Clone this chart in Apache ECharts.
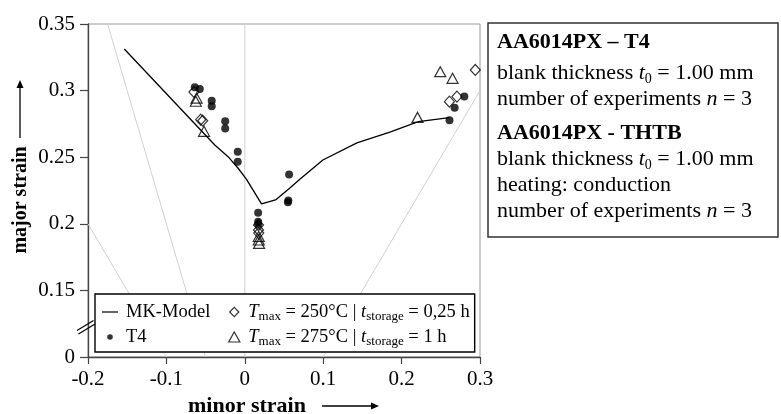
<!DOCTYPE html>
<html><head><meta charset="utf-8">
<script src="https://cdn.jsdelivr.net/npm/echarts@6/dist/echarts.min.js"></script>
<style>html,body{margin:0;padding:0;background:#fff}#c{width:781px;height:414px}</style>
</head><body><div id="c"></div>
<script>
// ---- tick labels ----
const xTickLabels = ['-0.2', '-0.1', '0', '0.1', '0.2', '0.3'];
const yTickLabels = ['0', '0.15', '0.2', '0.25', '0.3', '0.35']; // bottom tick is the axis break (shown as 0)

// ---- series data [minor strain, major strain] ----
const mkModel = [
  [-0.1537, 0.3312], [-0.0954, 0.2948], [-0.0383, 0.2592], [-0.0213, 0.2504],
  [-0.0085, 0.2417], [0.0022, 0.2334], [0.0213, 0.2149], [0.0392, 0.2179],
  [0.0575, 0.2269], [0.0702, 0.2334], [0.0996, 0.2479], [0.1430, 0.2607],
  [0.1851, 0.2689], [0.2213, 0.2767], [0.2609, 0.2797]
];
const t4 = [
  [-0.0638, 0.3025], [-0.0574, 0.3012],
  [-0.0422, 0.2924], [-0.0422, 0.2882],
  [-0.0250, 0.2770], [-0.0250, 0.2715],
  [-0.0090, 0.2540], [-0.0090, 0.2465],
  [0.0170, 0.2083], [0.0170, 0.2016], [0.0172, 0.1998],
  [0.0565, 0.2370], [0.0555, 0.2175], [0.0550, 0.2162],
  [0.2800, 0.2955], [0.2676, 0.2872], [0.2611, 0.2777]
];
const tmax250 = [
  [-0.0649, 0.2990], [-0.0563, 0.2782], [-0.0537, 0.2774],
  [0.0175, 0.1991], [0.0175, 0.1953], [0.0178, 0.1930],
  [0.2706, 0.2955], [0.2610, 0.2917], [0.2940, 0.3155]
];
const tmax275 = [
  [-0.0625, 0.2920], [-0.0615, 0.2944], [-0.0520, 0.2694],
  [0.0178, 0.1905], [0.0178, 0.1878], [0.0182, 0.1853],
  [0.2493, 0.3142], [0.2650, 0.3092], [0.2203, 0.2799]
];

// ---- forming-limit reference lines (display coordinates) ----
const lineUniaxial = [[-0.175, 0.35], [-0.05, 0.10]];
const lineShear = [[-0.2, 0.2], [-0.1, 0.1]];
const lineEquibiaxial = [[0.1, 0.1], [0.3, 0.3]];
const linePlane = [[0, 0.1], [0, 0.35]];

// ---- texts ----
const legendTexts = {
  'MK-Model': '{p|MK-Model}',
  'T4': 'T4',
  'T250': '{i|T}{s|max} = 250°C | {i|t}{s|storage} = 0,25 h',
  'T275': '{i|T}{s|max} = 275°C | {i|t}{s|storage} = 1 h'
};
const infoLines = [
  'AA6014PX – T4',
  'blank thickness {i|t}{s|0} = 1.00 mm',
  'number of experiments {i|n} = 3',
  'AA6014PX - THTB',
  'blank thickness {i|t}{s|0} = 1.00 mm',
  'heating: conduction',
  'number of experiments {i|n} = 3'
];
const infoBold = [true, false, false, true, false, false, false];
const infoTops = [29, 60, 86, 120, 146, 172, 198];

const FF = '"Liberation Serif", "Times New Roman", serif';
const chart = echarts.init(document.getElementById('c'));

function guide(data) {
  return { type: 'line', data: data, symbol: 'none', silent: true, z: 1,
    lineStyle: { color: '#d0d0d0', width: 1 } };
}

const hollow = { color: 'rgba(0,0,0,0)', borderColor: '#000', borderWidth: 1.2 };

const option = {
  animation: false,
  backgroundColor: '#fff',
  grid: { left: 88, right: 301, top: 24, bottom: 57, show: true, borderColor: '#999', borderWidth: 1 },
  xAxis: {
    type: 'value', min: -0.2, max: 0.3, interval: 0.1,
    axisLine: { onZero: false, lineStyle: { color: '#444', width: 1.3 } },
    axisTick: { length: 7, lineStyle: { color: '#444', width: 1.2 } },
    splitLine: { show: false },
    axisLabel: { fontFamily: FF, fontSize: 21, color: '#000', margin: 12,
      formatter: v => xTickLabels[Math.round((v + 0.2) / 0.1)] }
  },
  yAxis: {
    type: 'value', min: 0.1, max: 0.35, interval: 0.05,
    axisLine: { show: true, onZero: false, lineStyle: { color: '#444', width: 1.3 } },
    axisTick: { show: true, length: 8, lineStyle: { color: '#444', width: 1.2 } },
    splitLine: { show: false },
    axisLabel: { fontFamily: FF, fontSize: 21, color: '#000', margin: 13,
      formatter: v => yTickLabels[Math.round((v - 0.1) / 0.05)] }
  },
  legend: {
    orient: 'vertical', left: 95, top: 294, height: 50,
    padding: [7, 5, 4, 6], itemWidth: 20, itemHeight: 14, itemGap: 3,
    backgroundColor: '#fff', borderColor: '#000', borderWidth: 1.4, borderRadius: 0,
    selectedMode: false, z: 10,
    data: [
      { name: 'MK-Model', icon: 'path://M0,0M20,14M1,6.4L17,6.4L17,7.6L1,7.6Z',
        itemStyle: { color: '#000', borderWidth: 0 } },
      { name: 'T4', icon: 'path://M0,0M20,14M6.2,7A2.8,2.8,0,1,0,11.8,7A2.8,2.8,0,1,0,6.2,7Z',
        itemStyle: { color: '#000', borderWidth: 0 } },
      { name: 'T250', icon: 'path://M0,0M20,14M11,2.3L15.6,7L11,11.7L6.4,7Z', itemStyle: hollow },
      { name: 'T275', icon: 'path://M0,0M20,14M11,2L16.6,12L5.4,12Z', itemStyle: hollow }
    ],
    formatter: name => legendTexts[name],
    textStyle: {
      fontFamily: FF, fontSize: 18.5, color: '#000', lineHeight: 22,
      rich: {
        i: { fontStyle: 'italic' },
        s: { fontSize: 13, lineHeight: 14, verticalAlign: 'bottom' },
        p: { padding: [0, 10, 0, 0] }
      }
    }
  },
  title: infoLines.map((t, k) => ({
    text: t, left: 497, top: infoTops[k], padding: 0, z: 12,
    textStyle: {
      fontFamily: FF, fontSize: 22, fontWeight: infoBold[k] ? 'bold' : 'normal',
      color: '#000', lineHeight: 26,
      rich: {
        i: { fontStyle: 'italic' },
        s: { fontSize: 14, lineHeight: 14, verticalAlign: 'bottom' }
      }
    }
  })),
  graphic: [
    { type: 'rect', z: 5, shape: { x: 488, y: 23, width: 290, height: 214 },
      style: { fill: '#fff', stroke: '#333', lineWidth: 1.5 } },
    { type: 'text', x: 247, y: 406, z: 5,
      style: { text: 'minor strain', font: 'bold 22px ' + FF, fill: '#000',
        align: 'center', verticalAlign: 'middle', textAlign: 'center', textVerticalAlign: 'middle' } },
    { type: 'line', z: 5, shape: { x1: 322, y1: 406, x2: 373, y2: 406 }, style: { stroke: '#000', lineWidth: 1.3 } },
    { type: 'polygon', z: 5, shape: { points: [[379, 406], [371, 402.5], [371, 409.5]] }, style: { fill: '#000' } },
    { type: 'text', x: 21, y: 200, rotation: Math.PI / 2, z: 5,
      style: { text: 'major strain', font: 'bold 20px ' + FF, fill: '#000',
        align: 'center', verticalAlign: 'middle', textAlign: 'center', textVerticalAlign: 'middle' } },
    { type: 'line', z: 5, shape: { x1: 20, y1: 138, x2: 20, y2: 87 }, style: { stroke: '#000', lineWidth: 1.3 } },
    { type: 'polygon', z: 5, shape: { points: [[20, 80], [16.5, 88], [23.5, 88]] }, style: { fill: '#000' } },
    // axis break marks
    { type: 'line', z: 6, shape: { x1: 77, y1: 330.5, x2: 93.5, y2: 320.5 }, style: { stroke: '#000', lineWidth: 1.2 } },
    { type: 'line', z: 6, shape: { x1: 78.5, y1: 334, x2: 95, y2: 324 }, style: { stroke: '#000', lineWidth: 1.2 } }
  ],
  series: [
    guide(lineUniaxial), guide(lineShear), guide(lineEquibiaxial), guide(linePlane),
    { name: 'MK-Model', type: 'line', data: mkModel, symbol: 'none', z: 3,
      lineStyle: { color: '#000', width: 1.3 }, itemStyle: { color: '#000' } },
    { name: 'T4', type: 'scatter', data: t4, symbol: 'circle', symbolSize: 8, z: 4,
      itemStyle: { color: '#000' } },
    { name: 'T250', type: 'scatter', data: tmax250, symbol: 'diamond', symbolSize: [10, 11], z: 5,
      itemStyle: hollow },
    { name: 'T275', type: 'scatter', data: tmax275, symbol: 'triangle', symbolSize: [11, 10], z: 5,
      itemStyle: hollow }
  ]
};
chart.setOption(option);
</script>
</body></html>
